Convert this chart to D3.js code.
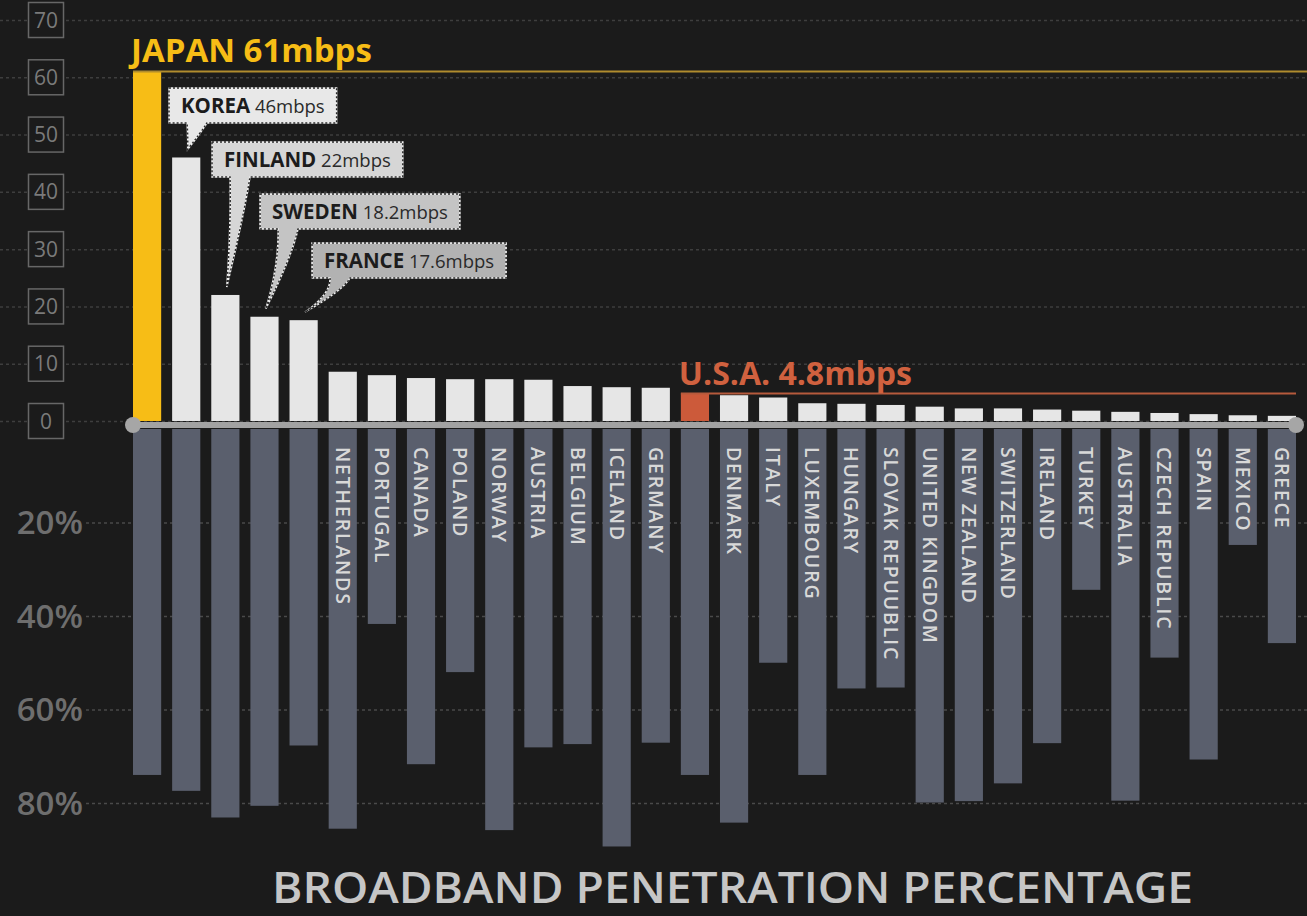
<!DOCTYPE html>
<html>
<head>
<meta charset="utf-8">
<script src="https://cdn.jsdelivr.net/npm/d3@7"></script>
<style>
  html, body { margin: 0; padding: 0; background: #1b1b1b; }
  svg { display: block; font-family: "Open Sans", "Noto Sans", sans-serif; }
</style>
</head>
<body>
<svg id="chart" width="1307" height="916"></svg>
<script>
// Country order (sorted by average connection speed)
const countries = [
  "JAPAN", "KOREA", "FINLAND", "SWEDEN", "FRANCE", "NETHERLANDS", "PORTUGAL",
  "CANADA", "POLAND", "NORWAY", "AUSTRIA", "BELGIUM", "ICELAND", "GERMANY",
  "U.S.A.", "DENMARK", "ITALY", "LUXEMBOURG", "HUNGARY", "SLOVAK REPUUBLIC",
  "UNITED KINGDOM", "NEW ZEALAND", "SWITZERLAND", "IRELAND", "TURKEY",
  "AUSTRALIA", "CZECH REPUBLIC", "SPAIN", "MEXICO", "GREECE"
];

// Average broadband speed, mbps (bars above the axis)
const speedMbps = [
  61, 46, 22, 18.2, 17.6, 8.6, 8.0,
  7.5, 7.3, 7.3, 7.2, 6.1, 5.9, 5.8,
  4.8, 4.5, 4.1, 3.1, 3.0, 2.8,
  2.5, 2.2, 2.2, 2.0, 1.8,
  1.6, 1.4, 1.2, 1.0, 0.9
];

// Broadband penetration, % (bars below the axis)
const penetrationPct = [
  74.0, 77.4, 83.1, 80.6, 67.7, 85.5, 41.7,
  71.7, 52.0, 85.8, 68.1, 67.4, 89.3, 67.1,
  74.0, 84.2, 50.0, 74.0, 55.5, 55.3,
  79.9, 79.6, 75.8, 67.2, 34.4,
  79.5, 48.9, 70.7, 24.8, 45.8
];

const speedTicks = [0, 10, 20, 30, 40, 50, 60, 70];
const pctTicks = [20, 40, 60, 80];

const leader = "JAPAN";
const home = "U.S.A.";
const calloutCountries = ["KOREA", "FINLAND", "SWEDEN", "FRANCE"];
const axisTitle = "BROADBAND PENETRATION PERCENTAGE";

// ---- layout ----
const W = 1307, H = 916;
const BG = "#1b1b1b";
const svg = d3.select("#chart");

const rows = countries.map((c, i) => ({ c, speed: speedMbps[i], pct: penetrationPct[i] }));

const x = d3.scaleBand().domain(countries).range([133, 1296]).paddingInner(0.28);
const yUp = d3.scaleLinear().domain([0, 70]).range([421, 20]);
const yDown = d3.scaleLinear().domain([0, 80]).range([429, 803]);

svg.append("rect").attr("width", W).attr("height", H).attr("fill", BG);

// upper grid + boxed tick labels
const upAxis = svg.append("g")
  .call(d3.axisRight(yUp).tickValues(speedTicks).tickSize(W).tickFormat(""));
upAxis.select(".domain").remove();
upAxis.selectAll(".tick line")
  .attr("stroke", "#3e3e3e").attr("stroke-width", 1.5).attr("stroke-dasharray", "3,3");

const upLabels = svg.append("g").selectAll("g").data(speedTicks).join("g")
  .attr("transform", d => `translate(46,${yUp(d)})`);
upLabels.append("rect")
  .attr("x", -17.5).attr("y", -17.5).attr("width", 35).attr("height", 35)
  .attr("fill", BG).attr("stroke", "#676767").attr("stroke-width", 1.5);
upLabels.append("text")
  .attr("text-anchor", "middle").attr("dy", "0.36em")
  .attr("font-size", 21).attr("fill", "#7a7a7a")
  .text(d => d);

// lower grid + percent labels
const downAxis = svg.append("g").attr("transform", "translate(86,0)")
  .call(d3.axisRight(yDown).tickValues(pctTicks).tickSize(W - 86).tickFormat(""));
downAxis.select(".domain").remove();
downAxis.selectAll(".tick line")
  .attr("stroke", "#4a4a4a").attr("stroke-width", 1.5).attr("stroke-dasharray", "3,3");

svg.append("g").selectAll("text").data(pctTicks).join("text")
  .attr("x", 83).attr("y", d => yDown(d)).attr("dy", "0.36em")
  .attr("text-anchor", "end").attr("font-size", 33).attr("font-weight", 600)
  .attr("fill", "#6e6e6e")
  .text(d => d + "%");

// penetration bars (down)
svg.append("g").selectAll("rect").data(rows).join("rect")
  .attr("x", d => x(d.c)).attr("width", x.bandwidth())
  .attr("y", yDown(0)).attr("height", d => yDown(d.pct) - yDown(0))
  .attr("fill", "#5a5f6d");

// speed bars (up)
svg.append("g").selectAll("rect").data(rows).join("rect")
  .attr("x", d => x(d.c)).attr("width", x.bandwidth())
  .attr("y", d => yUp(d.speed)).attr("height", d => yUp(0) - yUp(d.speed))
  .attr("fill", d => d.c === leader ? "#f7bd16" : d.c === home ? "#cc5a3a" : "#e6e6e6");

// central axis bar with round caps
const axisY = 425;
const x0 = x(countries[0]);
const x1 = x(countries[countries.length - 1]) + x.bandwidth();
svg.append("line").attr("x1", x0).attr("x2", x1).attr("y1", axisY).attr("y2", axisY)
  .attr("stroke", "#a2a2a2").attr("stroke-width", 6);
svg.selectAll("circle.cap").data([x0, x1]).join("circle")
  .attr("class", "cap").attr("cx", d => d).attr("cy", axisY).attr("r", 8)
  .attr("fill", "#a6a6a6");

// rotated country names inside the penetration bars
const named = rows.filter((d, i) => i >= 5 && d.c !== home);
svg.append("g").selectAll("text").data(named).join("text")
  .attr("transform", d => `translate(${x(d.c) + x.bandwidth() / 2},447) rotate(90)`)
  .attr("dy", "0.36em").attr("font-size", 19.5).attr("letter-spacing", 1.8)
  .attr("font-weight", 600)
  .attr("fill", "#d8d8d8")
  .text(d => d.c);

// leader and home highlight lines + labels
const lead = rows.find(d => d.c === leader);
svg.append("line")
  .attr("x1", x(leader)).attr("x2", W)
  .attr("y1", yUp(lead.speed)).attr("y2", yUp(lead.speed))
  .attr("stroke", "#b08c2e").attr("stroke-width", 2);
svg.append("text")
  .attr("x", x(leader) - 2).attr("y", yUp(lead.speed) - 10)
  .attr("font-size", 33).attr("font-weight", 700).attr("fill", "#f7bd16")
  .text(`${lead.c} ${lead.speed}mbps`);

const us = rows.find(d => d.c === home);
svg.append("line")
  .attr("x1", x(home)).attr("x2", x1)
  .attr("y1", yUp(us.speed)).attr("y2", yUp(us.speed))
  .attr("stroke", "#b65a3c").attr("stroke-width", 2);
svg.append("text")
  .attr("x", x(home) - 2).attr("y", yUp(us.speed) - 9)
  .attr("font-size", 32).attr("font-weight", 700).attr("fill", "#d0613f")
  .text(`${us.c} ${us.speed}mbps`);

// speech-bubble callouts for the runners-up
const calloutBoxes = [
  { left: 169, top: 88, fill: "#e8e8e8" },
  { left: 212, top: 142, fill: "#d6d6d6" },
  { left: 260, top: 194, fill: "#c4c4c4" },
  { left: 312, top: 243, fill: "#b2b2b2" }
];
const boxH = 35;

calloutCountries.forEach((name, i) => {
  const d = rows.find(r => r.c === name);
  const b = calloutBoxes[i];
  const g = svg.append("g");
  const txt = g.append("text")
    .attr("x", b.left + 12).attr("y", b.top + 25);
  txt.append("tspan").attr("font-size", 20.5).attr("font-weight", 700)
    .attr("fill", "#1c1c1c").text(d.c);
  txt.append("tspan").attr("font-size", 18.5).attr("fill", "#2a2a2a")
    .text(" " + d.speed + "mbps");
  const tw = txt.node().getComputedTextLength();
  const right = b.left + tw + 24;
  const bottom = b.top + boxH;
  const bx1 = b.left + 18, bx2 = b.left + 38;
  const tipX = x(d.c) + x.bandwidth() * 0.55;
  const tipY = yUp(d.speed) - 8;
  const h = tipY - bottom;
  const p = d3.path();
  p.moveTo(b.left, b.top);
  p.lineTo(right, b.top);
  p.lineTo(right, bottom);
  p.lineTo(bx2, bottom);
  p.quadraticCurveTo(bx2 - 6, bottom + h * 0.35, tipX, tipY);
  p.quadraticCurveTo(bx1 + 1, bottom + h * 0.45, bx1, bottom);
  p.lineTo(b.left, bottom);
  p.closePath();
  g.insert("path", "text").attr("d", p.toString())
    .attr("fill", b.fill).attr("stroke", "#f2f2f2").attr("stroke-width", 1.5);
  g.insert("path", "text").attr("d", p.toString())
    .attr("fill", "none").attr("stroke", "#2a2a2a").attr("stroke-width", 1.5)
    .attr("stroke-dasharray", "2,2");
});

// bottom title
svg.append("text")
  .attr("x", 272).attr("y", 903)
  .attr("textLength", 921).attr("lengthAdjust", "spacingAndGlyphs")
  .attr("font-size", 43).attr("font-weight", 600).attr("fill", "#c6c6c6")
  .text(axisTitle);
</script>
</body>
</html>
